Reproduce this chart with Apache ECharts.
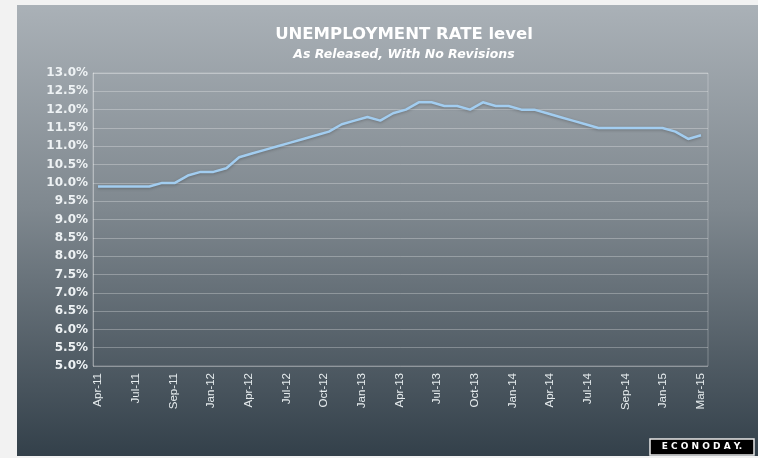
<!DOCTYPE html>
<html>
<head>
<meta charset="utf-8">
<script src="https://cdn.jsdelivr.net/npm/echarts@6/dist/echarts.min.js"></script>
<style>
html,body{margin:0;padding:0;background:#f2f2f2;}
#c{width:758px;height:458px;}
</style>
</head>
<body>
<div id="c"></div>
<script>
// Monthly categories (Apr-11 .. Mar-15)
const months = ["Apr-11","May-11","Jun-11","Jul-11","Aug-11","Sep-11","Oct-11","Nov-11","Dec-11",
  "Jan-12","Feb-12","Mar-12","Apr-12","May-12","Jun-12","Jul-12","Aug-12","Sep-12","Oct-12","Nov-12","Dec-12",
  "Jan-13","Feb-13","Mar-13","Apr-13","May-13","Jun-13","Jul-13","Aug-13","Sep-13","Oct-13","Nov-13","Dec-13",
  "Jan-14","Feb-14","Mar-14","Apr-14","May-14","Jun-14","Jul-14","Aug-14","Sep-14","Oct-14","Nov-14","Dec-14",
  "Jan-15","Feb-15","Mar-15"];
// Unemployment rate (%) as released
const rate = [9.9,9.9,9.9,9.9,9.9,10.0,10.0,10.2,10.3,10.3,10.4,10.7,
  10.8,10.9,11.0,11.1,11.2,11.3,11.4,11.6,11.7,11.8,11.7,11.9,
  12.0,12.2,12.2,12.1,12.1,12.0,12.2,12.1,12.1,12.0,12.0,11.9,
  11.8,11.7,11.6,11.5,11.5,11.5,11.5,11.5,11.5,11.4,11.2,11.3];
// Tick labels shown on the x axis
const tickLabels = ["Apr-11","Jul-11","Sep-11","Jan-12","Apr-12","Jul-12","Oct-12","Jan-13","Apr-13",
  "Jul-13","Oct-13","Jan-14","Apr-14","Jul-14","Sep-14","Jan-15","Mar-15"];
const yMin = 5, yMax = 13, yStep = 0.5;

const chart = echarts.init(document.getElementById('c'), null, {renderer:'canvas'});
const option = {
  backgroundColor: 'transparent',
  animation: false,
  graphic: [
    {type:'rect', z:-10, silent:true, shape:{x:17,y:5,width:741,height:451},
     style:{fill:new echarts.graphic.LinearGradient(0,0,0,1,[
       {offset:0,color:'#aab1b7'},{offset:0.45,color:'#7f888f'},{offset:1,color:'#33404a'}])}},
    {type:'rect', z:10, shape:{x:650,y:439,width:104,height:16},
     style:{fill:'#000',stroke:'#e8e8e8',lineWidth:1.5}},
    {type:'text', z:11, x:702, y:447,
     style:{text:'E C O N O D A Y.',fill:'#fff',font:'bold 9px "DejaVu Sans"',align:'center',verticalAlign:'middle'}}
  ],
  title: {
    text: 'UNEMPLOYMENT RATE level',
    subtext: 'As Released, With No Revisions',
    left: 399, top: 21, textAlign: 'center', itemGap: 5,
    textStyle: {color:'#ffffff', fontFamily:'DejaVu Sans', fontWeight:'bold', fontSize:16.5},
    subtextStyle: {color:'#ffffff', fontFamily:'DejaVu Sans', fontWeight:'bold', fontStyle:'italic', fontSize:12.5}
  },
  grid: [
    {left:93, right:50, top:73, bottom:92, show:true, borderColor:'rgba(255,255,255,0.28)', borderWidth:1},
    {left:98, right:57, top:73, bottom:92}
  ],
  xAxis: [
    {type:'category', gridIndex:0, data:months, show:false},
    {type:'category', gridIndex:1, data:tickLabels, boundaryGap:false, position:'bottom',
     axisLine:{show:false}, axisTick:{show:false}, splitLine:{show:false},
     axisLabel:{interval:0, rotate:90, margin:7, color:'#e6ecee', fontFamily:'Liberation Sans', fontSize:11.5}},
    {type:'category', gridIndex:1, data:months, boundaryGap:false, show:false}
  ],
  yAxis: [
    {type:'value', gridIndex:0, min:yMin, max:yMax, interval:yStep,
     axisLine:{show:true, lineStyle:{color:'rgba(255,255,255,0.3)'}},
     axisTick:{show:false},
     splitLine:{show:true, lineStyle:{color:'rgba(255,255,255,0.28)', width:1}},
     axisLabel:{margin:5, color:'#eef2f4', fontFamily:'DejaVu Sans', fontWeight:'bold', fontSize:12,
       formatter:v=>v.toFixed(1)+'%'}},
    {type:'value', gridIndex:1, min:yMin, max:yMax, interval:yStep, show:false}
  ],
  series: [{
    type:'line', xAxisIndex:2, yAxisIndex:1, data:rate, symbol:'none',
    lineStyle:{color:'#a2cdf0', width:2.5, shadowColor:'rgba(0,0,0,0.25)', shadowBlur:3, shadowOffsetY:1}
  }]
};
chart.setOption(option);
</script>
</body>
</html>
